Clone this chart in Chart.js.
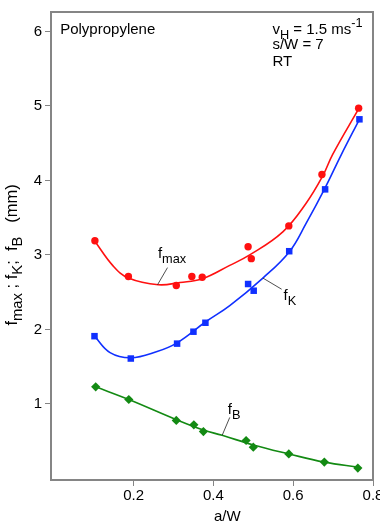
<!DOCTYPE html>
<html>
<head>
<meta charset="utf-8">
<script src="https://cdn.jsdelivr.net/npm/chart.js@4.4.0/dist/chart.umd.min.js"></script>
<style>
  html, body { margin: 0; padding: 0; background: #fff; }
  #wrap { width: 380px; height: 527px; }
</style>
</head>
<body>
<div id="wrap"><canvas id="chart" width="380" height="527"></canvas></div>
<script>
// measured points (a/W, deflection in mm)
const fmaxX = [0.103, 0.187, 0.307, 0.346, 0.372, 0.487, 0.495, 0.589, 0.672, 0.764];
const fmaxY = [3.19, 2.71, 2.59, 2.71, 2.70, 3.11, 2.95, 3.39, 4.08, 4.97];
const fkX = [0.102, 0.193, 0.309, 0.350, 0.380, 0.487, 0.501, 0.590, 0.680, 0.766];
const fkY = [1.91, 1.61, 1.81, 1.97, 2.09, 2.61, 2.52, 3.05, 3.88, 4.82];
const fbX = [0.105, 0.188, 0.307, 0.351, 0.375, 0.482, 0.500, 0.589, 0.678, 0.762];
const fbY = [1.23, 1.06, 0.78, 0.72, 0.63, 0.51, 0.42, 0.33, 0.22, 0.14];

// fitted curves
const fmaxFitX = [0.102, 0.149, 0.187, 0.262, 0.316, 0.372, 0.441, 0.491, 0.574, 0.632, 0.674, 0.699, 0.765];
const fmaxFitY = [3.19, 2.85, 2.69, 2.60, 2.63, 2.68, 2.86, 3.00, 3.31, 3.69, 4.06, 4.35, 4.97];
const fkFitX = [0.102, 0.141, 0.193, 0.257, 0.309, 0.380, 0.441, 0.524, 0.590, 0.632, 0.680, 0.720, 0.766];
const fkFitY = [1.91, 1.69, 1.62, 1.70, 1.82, 2.10, 2.32, 2.69, 3.04, 3.42, 3.90, 4.34, 4.82];
const fbFitX = [0.105, 0.188, 0.307, 0.375, 0.422, 0.500, 0.589, 0.678, 0.765];
const fbFitY = [1.23, 1.06, 0.79, 0.65, 0.58, 0.45, 0.33, 0.22, 0.15];

const xTicks = [0.2, 0.4, 0.6, 0.8];
const yTicks = [1, 2, 3, 4, 5, 6];

const FONT = '"Liberation Sans", Arial, Helvetica, sans-serif';
const axisColor = '#858585';
const red = '#ff1010';
const blue = '#1030ff';
const green = '#138a13';

const pts = (xs, ys) => xs.map((x, i) => ({ x: x, y: ys[i] }));

// text with sub/superscripts
function richText(ctx, x, y, parts, size, k) {
    k = k || 0.85;
    let cx = x;
    parts.forEach(p => {
        const s = (p.sub || p.sup) ? size * k : size;
        ctx.font = s + 'px ' + FONT;
        const dy = p.sub ? size * 0.33 : (p.sup ? -size * 0.42 : 0);
        ctx.fillText(p.t, cx, y + dy);
        cx += ctx.measureText(p.t).width;
    });
    return cx - x;
}
function richWidth(ctx, parts, size, k) {
    k = k || 0.85;
    let w = 0;
    parts.forEach(p => {
        ctx.font = ((p.sub || p.sup) ? size * k : size) + 'px ' + FONT;
        w += ctx.measureText(p.t).width;
    });
    return w;
}

// labels placed in data units
const notes = [
    { x: 0.016, y: 5.97, parts: [{ t: 'Polypropylene' }] },
    { x: 0.548, y: 5.97, parts: [{ t: 'v' }, { t: 'H', sub: true }, { t: ' = 1.5 ms' }, { t: '-1', sup: true }] },
    { x: 0.548, y: 5.76, parts: [{ t: 's/W = 7' }] },
    { x: 0.548, y: 5.54, parts: [{ t: 'RT' }] },
    { x: 0.261, y: 2.96, parts: [{ t: 'f' }, { t: 'max', sub: true }] },
    { x: 0.576, y: 2.39, parts: [{ t: 'f' }, { t: 'K', sub: true }] },
    { x: 0.436, y: 0.87, parts: [{ t: 'f' }, { t: 'B', sub: true }] }
];
const leaders = [
    [0.285, 2.83, 0.260, 2.60],
    [0.524, 2.69, 0.571, 2.54],
    [0.441, 0.82, 0.422, 0.58]
];

const annot = {
    id: 'annot',
    afterDraw(chart) {
        const ctx = chart.ctx;
        const a = chart.chartArea;
        const xs = chart.scales.x, ys = chart.scales.y;
        ctx.save();
        // top and right frame
        ctx.strokeStyle = axisColor;
        ctx.lineWidth = 2;
        ctx.beginPath();
        ctx.moveTo(a.left, a.top);
        ctx.lineTo(a.right, a.top);
        ctx.lineTo(a.right, a.bottom);
        ctx.stroke();

        ctx.fillStyle = '#000';
        ctx.textBaseline = 'alphabetic';
        ctx.textAlign = 'left';
        notes.forEach(n => {
            richText(ctx, xs.getPixelForValue(n.x), ys.getPixelForValue(n.y), n.parts, 15);
        });

        ctx.strokeStyle = '#222';
        ctx.lineWidth = 0.8;
        leaders.forEach(l => {
            ctx.beginPath();
            ctx.moveTo(xs.getPixelForValue(l[0]), ys.getPixelForValue(l[1]));
            ctx.lineTo(xs.getPixelForValue(l[2]), ys.getPixelForValue(l[3]));
            ctx.stroke();
        });

        // x tick labels
        ctx.font = '15px ' + FONT;
        ctx.textAlign = 'center';
        ctx.textBaseline = 'middle';
        xTicks.forEach(v => {
            ctx.fillText(v.toFixed(1), xs.getPixelForValue(v), a.bottom + 16);
        });
        // x title
        ctx.fillText('a/W', xs.getPixelForValue(0.435), a.bottom + 37);

        // y title (rotated)
        const title = [{ t: 'f' }, { t: 'max', sub: true }, { t: ' ; f' }, { t: 'K', sub: true },
            { t: ';  f' }, { t: 'B', sub: true }, { t: '   (mm)' }];
        ctx.textAlign = 'left';
        ctx.textBaseline = 'alphabetic';
        const w = richWidth(ctx, title, 16.5, 0.9);
        ctx.translate(17, ys.getPixelForValue(3.0));
        ctx.rotate(-Math.PI / 2);
        richText(ctx, -w / 2, 0, title, 16.5, 0.9);
        ctx.restore();
    }
};

const ctx = document.getElementById('chart').getContext('2d');
new Chart(ctx, {
    type: 'scatter',
    data: {
        datasets: [
            { data: pts(fmaxX, fmaxY), pointStyle: 'circle', pointRadius: 3.7, backgroundColor: red, borderColor: red, borderWidth: 0 },
            { data: pts(fkX, fkY), pointStyle: 'rect', pointRadius: 4.6, backgroundColor: blue, borderColor: blue, borderWidth: 0 },
            { data: pts(fbX, fbY), pointStyle: 'rectRot', pointRadius: 4.6, backgroundColor: green, borderColor: green, borderWidth: 0 },
            { data: pts(fmaxFitX, fmaxFitY), showLine: true, pointRadius: 0, borderColor: red, borderWidth: 1.6, tension: 0.4 },
            { data: pts(fkFitX, fkFitY), showLine: true, pointRadius: 0, borderColor: blue, borderWidth: 1.6, tension: 0.4 },
            { data: pts(fbFitX, fbFitY), showLine: true, pointRadius: 0, borderColor: green, borderWidth: 1.6, tension: 0.4 }
        ]
    },
    options: {
        responsive: false,
        animation: false,
        layout: { padding: { left: 0, right: 7, top: 5, bottom: 0 } },
        plugins: { legend: { display: false }, tooltip: { enabled: false } },
        scales: {
            x: {
                type: 'linear',
                min: -0.007,
                max: 0.8,
                afterBuildTicks: s => { s.ticks = xTicks.map(v => ({ value: v })); },
                afterFit: s => { s.height = 47; },
                grid: { drawOnChartArea: false, tickLength: 6, color: axisColor, lineWidth: 1 },
                border: { color: axisColor, width: 2 },
                ticks: { display: false }
            },
            y: {
                type: 'linear',
                min: -0.02,
                max: 6.26,
                afterBuildTicks: s => { s.ticks = yTicks.map(v => ({ value: v })); },
                afterFit: s => { s.width = 51; },
                grid: { drawOnChartArea: false, tickLength: 6, color: axisColor, lineWidth: 1 },
                border: { color: axisColor, width: 2 },
                ticks: { font: { family: FONT, size: 15 }, color: '#000', padding: 3, callback: v => String(v) }
            }
        }
    },
    plugins: [annot]
});
</script>
</body>
</html>
